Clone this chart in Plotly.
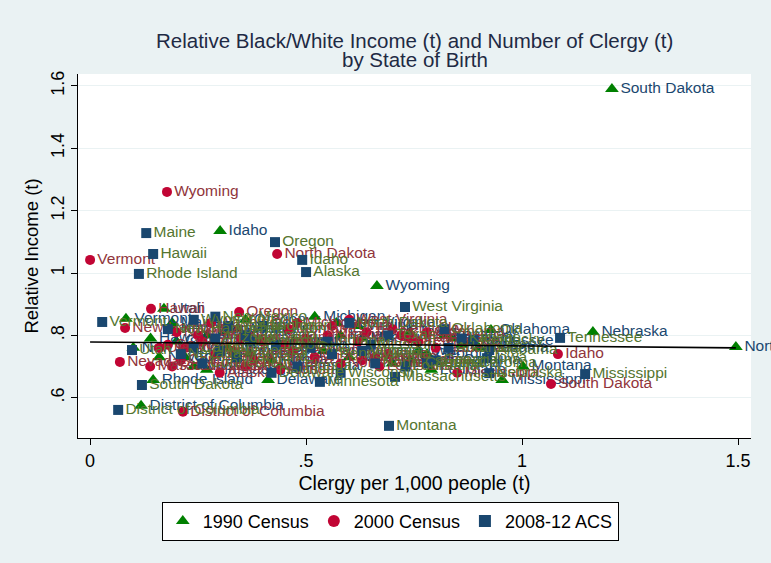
import plotly.graph_objects as go

states = ["Alabama","Alaska","Arizona","Arkansas","California","Colorado","Connecticut","Delaware",
          "District of Columbia","Florida","Georgia","Hawaii","Idaho","Illinois","Indiana","Iowa","Kansas",
          "Kentucky","Louisiana","Maine","Maryland","Massachusetts","Michigan","Minnesota","Mississippi",
          "Missouri","Montana","Nebraska","Nevada","New Hampshire","New Jersey","New Mexico","New York",
          "North Carolina","North Dakota","Ohio","Oklahoma","Oregon","Pennsylvania","Rhode Island",
          "South Carolina","South Dakota","Tennessee","Texas","Utah","Vermont","Virginia","Washington",
          "West Virginia","Wisconsin","Wyoming"]

clergy_1990 = [0.90,0.24,0.27,0.86,0.20,0.31,0.22,0.412,0.118,0.42,0.78,0.14,0.301,0.47,0.58,0.76,0.84,
               0.82,0.79,0.19,0.37,0.27,0.52,0.44,0.954,0.63,1.002,1.164,0.16,0.19,0.32,0.10,0.39,
               0.70,1.495,0.50,0.928,0.36,0.54,0.146,0.74,1.208,0.88,0.74,0.171,0.083,0.62,0.34,
               0.57,0.60,0.664]
income_1990 = [0.76,0.70,0.80,0.77,0.78,0.81,0.73,0.657,0.574,0.72,0.74,0.79,1.135,0.78,0.80,0.75,0.79,
               0.80,0.69,0.84,0.74,0.69,0.86,0.70,0.657,0.79,0.70,0.811,0.73,0.82,0.76,0.76,0.78,
               0.71,0.763,0.77,0.817,0.85,0.75,0.657,0.72,1.59,0.78,0.81,0.885,0.853,0.83,0.82,
               0.84,0.73,0.958]

clergy_2000 = [0.80,0.30,0.22,0.74,0.18,0.26,0.21,0.36,0.215,0.44,0.66,0.141,1.083,0.40,0.50,0.69,0.72,
               0.70,0.67,0.25,0.33,0.139,0.48,0.38,0.85,0.55,0.46,0.62,0.069,0.081,0.29,0.20,0.35,
               0.58,0.433,0.45,0.78,0.345,0.47,0.19,0.63,1.067,0.76,0.64,0.16,0.0,0.56,0.28,
               0.60,0.52,0.178]
income_2000 = [0.76,0.68,0.76,0.79,0.77,0.78,0.72,0.70,0.555,0.69,0.73,0.885,0.74,0.78,0.79,0.74,0.80,
               0.82,0.70,0.80,0.75,0.70,0.84,0.72,0.68,0.80,0.82,0.78,0.715,0.824,0.74,0.81,0.79,
               0.71,1.061,0.77,0.81,0.875,0.75,0.70,0.72,0.644,0.78,0.81,0.76,1.042,0.83,0.84,
               0.85,0.73,1.26]

clergy_2008 = [0.924,0.50,0.29,0.83,0.24,0.36,0.26,0.42,0.065,0.48,0.80,0.146,0.491,0.43,0.55,0.919,0.86,
               0.887,0.73,0.13,0.34,0.706,0.40,0.532,1.146,0.65,0.692,0.924,0.21,0.18,0.30,0.29,0.37,
               0.66,0.60,0.51,0.82,0.428,0.56,0.113,0.78,0.12,1.088,0.69,0.097,0.028,0.63,0.32,
               0.729,0.58,0.24]
income_2008 = [0.753,1.003,0.79,0.76,0.76,0.80,0.71,0.68,0.561,0.70,0.72,1.061,1.042,0.77,0.78,0.727,0.79,
               0.785,0.70,1.128,0.73,0.667,0.83,0.651,0.676,0.77,0.51,0.679,0.74,0.82,0.75,0.86,0.78,
               0.71,0.84,0.76,0.82,1.099,0.74,0.997,0.71,0.641,0.792,0.80,0.753,0.843,0.75,0.83,
               0.891,0.68,0.85]

fit_x = [0.0, 1.495]
fit_y = [0.779, 0.760]

title_lines = ["Relative Black/White Income (t) and Number of Clergy (t)", "by State of Birth"]

FONT = "Liberation Sans, Arial, sans-serif"

fig = go.Figure()
series = [
    ("1990 Census", clergy_1990, income_1990, "triangle-up", "#008000", "#1a476f", 12),
    ("2000 Census", clergy_2000, income_2000, "circle", "#c10534", "#90353b", 10),
    ("2008-12 ACS", clergy_2008, income_2008, "square", "#1a476f", "#55752f", 10),
]
for name, xs, ys, sym, mcol, tcol, sz in series:
    fig.add_trace(go.Scatter(
        x=xs, y=ys, text=states, name=name, mode="markers+text",
        textposition="middle right",
        textfont=dict(family=FONT, size=15.5, color=tcol),
        marker=dict(symbol=sym, color=mcol, size=sz, line=dict(width=0)),
        cliponaxis=False,
    ))

fig.add_trace(go.Scatter(x=fit_x, y=fit_y, mode="lines", line=dict(color="black", width=1.6),
                         showlegend=False, hoverinfo="skip"))

for txt, ypos in zip(title_lines, [1.0934, 1.0385]):
    fig.add_annotation(text=txt, xref="paper", yref="paper", x=0.5, y=ypos,
                       xanchor="center", yanchor="middle", showarrow=False,
                       font=dict(family=FONT, size=20.5, color="#1e2a44"))

fig.update_layout(
    width=771, height=563,
    margin=dict(l=78, r=20, t=74, b=125),
    paper_bgcolor="#eaf2f3", plot_bgcolor="white",
    font=dict(family=FONT, size=17, color="black"),
    showlegend=True,
    legend=dict(orientation="h", x=0.464, xanchor="center", y=-0.175, yanchor="top",
                bgcolor="white", bordercolor="black", borderwidth=1,
                font=dict(family=FONT, size=18, color="black"),
                itemsizing="constant", itemwidth=30),
    xaxis=dict(range=[-0.028, 1.53], tickvals=[0, 0.5, 1, 1.5], ticktext=["0", ".5", "1", "1.5"],
               showgrid=False, zeroline=False, showline=True, linecolor="black", linewidth=1,
               ticks="outside", ticklen=6, tickcolor="black", tickfont=dict(size=18),
               title=dict(text="Clergy per 1,000 people (t)", font=dict(size=19.5), standoff=6)),
    yaxis=dict(range=[0.471, 1.638], tickvals=[0.6, 0.8, 1.0, 1.2, 1.4, 1.6],
               ticktext=[".6", ".8", "1", "1.2", "1.4", "1.6"], tickangle=-90,
               showgrid=True, gridcolor="#eaf2f3", gridwidth=1.2, zeroline=False,
               showline=True, linecolor="black", linewidth=1,
               ticks="outside", ticklen=6, tickcolor="black", tickfont=dict(size=18),
               title=dict(text="Relative Income (t)", font=dict(size=18.5), standoff=4)),
)

fig.write_html("out.html")
